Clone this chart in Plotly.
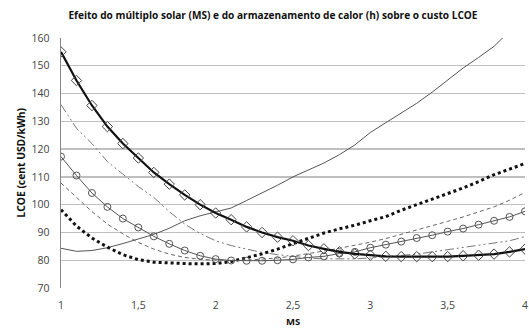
import plotly.graph_objects as go

ms = [round(1 + 0.1 * i, 1) for i in range(31)]

h_diamond = [155, 144.7, 135.7, 128.1, 122, 116.8, 111.6, 107.4, 103.5, 100, 97, 94.6, 92, 90, 88.3,
             87, 85.3, 84.1, 83, 82.3, 81.8, 81.4, 81.3, 81.3, 81.3, 81.3, 81.6, 81.8, 82.2, 83, 84]
h_circle = [117.3, 110.5, 104.2, 99.2, 95, 91.8, 88.6, 85.9, 83.5, 81.6, 80.4, 79.9, 79.8, 79.8, 80,
            80.3, 81, 81.4, 82.4, 83, 84.5, 85.6, 86.7, 88, 89, 90.3, 91.4, 92.8, 94.2, 95.6, 97.6]
h_dashdot = [136, 127.5, 122, 115.5, 111, 106.5, 102.6, 97.5, 93, 89.6, 87, 85.3, 84, 82.8, 82,
             81.3, 80.8, 80.5, 80.4, 80.5, 80.8, 81.2, 81.6, 82.2, 83, 83.8, 84.5, 85.2, 86, 87, 88.5]
h_dash = [107.8, 102.5, 97.5, 93, 89.5, 86.4, 84, 82.2, 81, 80.3, 80, 79.9, 80, 80.3, 80.8,
          81.5, 82.3, 83.3, 84.3, 85.3, 86.5, 87.8, 89.3, 90.8, 92.3, 94, 95.6, 97.3, 99.2, 101.6, 104.4]
h_dot = [98.2, 92.3, 88, 84.7, 82, 80.2, 79.3, 79, 78.8, 78.7, 78.8, 79.5, 80.8, 82.3, 84,
         86, 88, 89.8, 91.3, 92.6, 94.2, 95.7, 98, 100, 101.8, 104, 106, 108.3, 110.8, 112.8, 114.8]
h_solid = [84.3, 83.2, 83.5, 84.5, 86, 87.6, 89.3, 91.5, 94.2, 96, 97.5, 98.8, 101.5, 104.2, 107,
           110, 112.5, 115, 118, 121.5, 126, 129.5, 133, 136.5, 140.5, 145, 149.2, 153, 157, 162.5, 168]

x_tickvals = [1, 1.5, 2, 2.5, 3, 3.5, 4]
x_ticktext = ["1", "1,5", "2", "2,5", "3", "3,5", "4"]
y_tickvals = [70, 80, 90, 100, 110, 120, 130, 140, 150, 160]

fig = go.Figure()

fig.add_trace(go.Scatter(x=ms, y=h_solid, mode="lines",
                         line=dict(color="#555555", width=1)))
fig.add_trace(go.Scatter(x=ms, y=h_dash, mode="lines",
                         line=dict(color="#666666", width=1, dash="4px,3px")))
fig.add_trace(go.Scatter(x=ms, y=h_dashdot, mode="lines",
                         line=dict(color="#777777", width=1, dash="9px,3px,2px,3px,2px,3px")))
fig.add_trace(go.Scatter(x=ms, y=h_dot, mode="lines",
                         line=dict(color="#111111", width=3, dash="dot")))
fig.add_trace(go.Scatter(x=ms, y=h_circle, mode="lines+markers",
                         line=dict(color="#555555", width=1),
                         marker=dict(symbol="circle-open", size=7, color="#555555",
                                     line=dict(width=1))))
fig.add_trace(go.Scatter(x=ms, y=h_diamond, mode="lines+markers",
                         line=dict(color="#111111", width=2.2),
                         marker=dict(symbol="diamond-open", size=8, color="#444444",
                                     line=dict(width=1))))

fig.update_layout(
    width=529, height=328,
    margin=dict(l=61, r=4, t=38, b=40, autoexpand=False),
    paper_bgcolor="white", plot_bgcolor="white",
    showlegend=False,
    hovermode=False,
    font=dict(family="Open Sans", color="#404040"),
    title=dict(text="<b>Efeito do múltiplo solar (MS) e do armazenamento de calor (h) sobre o custo LCOE</b>",
               x=0.516, xanchor="center", y=0.952, yanchor="middle",
               font=dict(size=10.1, color="#111111")),
    annotations=[
        dict(text="<b>LCOE (cent USD/kWh)</b>", xref="paper", yref="paper",
             x=-0.087, y=0.5, xanchor="center", yanchor="middle", textangle=-90,
             showarrow=False, font=dict(size=10.3, color="#111111")),
        dict(text="<b>MS</b>", xref="paper", yref="paper",
             x=0.5, y=-0.135, xanchor="center", yanchor="middle",
             showarrow=False, font=dict(size=9.5, color="#111111")),
    ],
)
fig.update_xaxes(
    range=[1, 4], tickvals=x_tickvals, ticktext=x_ticktext,
    showgrid=False, zeroline=False, automargin=False,
    showline=False, ticks="outside", ticklen=7, tickcolor="rgba(0,0,0,0)",
    ticklabeloverflow="allow",
    tickfont=dict(size=10.5, color="#444444"),
)
fig.update_yaxes(
    range=[70, 160], tickvals=y_tickvals,
    showgrid=True, gridcolor="#bfbfbf", gridwidth=1.3, zeroline=False,
    showline=True, linecolor="#888888", linewidth=1.5, automargin=False,
    ticks="outside", ticklen=8, tickcolor="rgba(0,0,0,0)",
    tickfont=dict(size=10.5, color="#444444"),
)

fig.write_html("out.html",
               config={"displayModeBar": False, "staticPlot": True},
               post_script="document.body.style.margin='0';document.body.style.overflow='hidden';")
